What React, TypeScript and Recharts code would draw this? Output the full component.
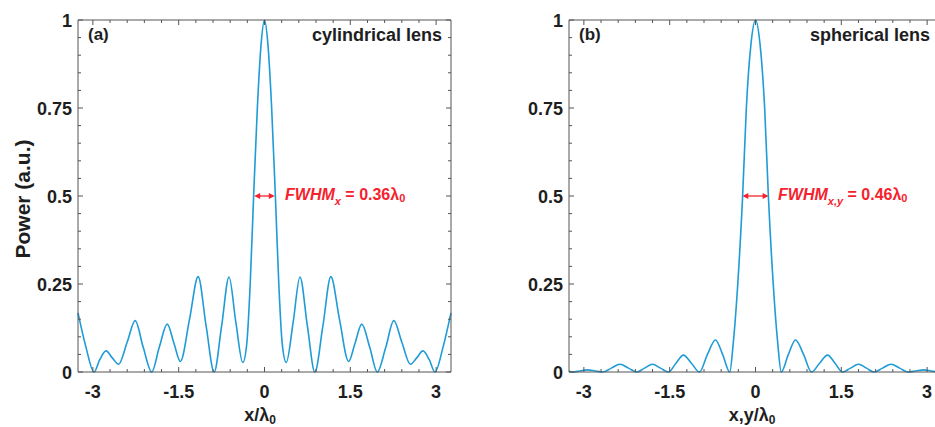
import React from 'react';
import { LineChart, Line, XAxis, YAxis, ReferenceLine } from 'recharts';

// (a) cylindrical lens, power vs x/λ0
const cylX = [
  -3.26, -3.12, -2.98, -2.88, -2.77, -2.66, -2.55, -2.4, -2.26, -2.12,
  -1.97, -1.84, -1.7, -1.58, -1.47, -1.31, -1.16, -1.02, -0.88, -0.75,
  -0.62, -0.5, -0.38, -0.31, -0.25, -0.19, -0.125, -0.06, 0,
  0.06, 0.125, 0.19, 0.25, 0.31, 0.38, 0.5, 0.62, 0.75, 0.88,
  1.02, 1.16, 1.31, 1.47, 1.58, 1.7, 1.84, 1.97, 2.12, 2.26,
  2.4, 2.55, 2.66, 2.77, 2.88, 2.98, 3.12, 3.26,
];
const cylPower = [
  0.168, 0.07, 0, 0.035, 0.06, 0.04, 0.022, 0.085, 0.146, 0.07,
  0, 0.07, 0.136, 0.08, 0.03, 0.15, 0.271, 0.13, 0, 0.13,
  0.27, 0.14, 0.027, 0.08, 0.25, 0.5, 0.75, 0.93, 1,
  0.93, 0.75, 0.5, 0.25, 0.08, 0.027, 0.14, 0.27, 0.13, 0,
  0.13, 0.271, 0.15, 0.03, 0.08, 0.136, 0.07, 0, 0.07, 0.146,
  0.085, 0.022, 0.04, 0.06, 0.035, 0, 0.07, 0.168,
];

// (b) spherical lens, power vs x,y/λ0
const sphX = [
  -3.26, -3.2, -3.07, -2.94, -2.8, -2.67, -2.52, -2.37, -2.22, -2.07,
  -1.94, -1.8, -1.66, -1.52, -1.39, -1.26, -1.12, -0.98, -0.84, -0.7,
  -0.575, -0.45, -0.39, -0.31, -0.225, -0.16, -0.08, 0,
  0.08, 0.16, 0.225, 0.31, 0.39, 0.45, 0.575,
  0.7, 0.84, 0.98, 1.12, 1.26, 1.39, 1.52, 1.66, 1.8, 1.94,
  2.07, 2.22, 2.37, 2.52, 2.67, 2.8, 2.94, 3.07, 3.2, 3.26,
];
const sphPower = [
  0.002, 0, 0.003, 0.006, 0.003, 0, 0.011, 0.022, 0.011, 0,
  0.011, 0.022, 0.011, 0, 0.025, 0.048, 0.025, 0, 0.05, 0.091,
  0.05, 0, 0.08, 0.25, 0.5, 0.75, 0.93, 1,
  0.93, 0.75, 0.5, 0.25, 0.08, 0, 0.05,
  0.091, 0.05, 0, 0.025, 0.048, 0.025, 0, 0.011, 0.022, 0.011,
  0, 0.011, 0.022, 0.011, 0, 0.003, 0.006, 0.003, 0, 0.002,
];

const xTicks = [-3, -1.5, 0, 1.5, 3];
const xAllTicks = [-3, -2.7, -2.4, -2.1, -1.8, -1.5, -1.2, -0.9, -0.6, -0.3, 0, 0.3, 0.6, 0.9, 1.2, 1.5, 1.8, 2.1, 2.4, 2.7, 3];
const yTicks = [0, 0.25, 0.5, 0.75, 1];
const yAllTicks = [0, 0.05, 0.1, 0.15, 0.2, 0.25, 0.3, 0.35, 0.4, 0.45, 0.5, 0.55, 0.6, 0.65, 0.7, 0.75, 0.8, 0.85, 0.9, 0.95, 1];

const cylFwhm = 0.36;
const sphFwhm = 0.46;

const FONT = '"Liberation Sans", Arial, Helvetica, sans-serif';
const BLUE = '#1f9bd7';
const RED = '#f5222d';
const AXIS = '#555555';
const INK = '#1e1e1e';
const CHART_W = 470;
const CHART_H = 427;
// plot box: left 78, top 20, right 451, bottom 372 (axis sizes added on top of these)
const MARGIN = { top: 19, right: 18, bottom: 25, left: 18 };
const X_DOMAIN: [number, number] = [-3.26, 3.26];
const MAJOR = 5;
const MINOR = 3;

const labelStyle = { fill: INK, fontSize: 18, fontWeight: 700, fontFamily: FONT };

function BottomTick(props: any) {
  const { x, y, payload } = props;
  const major = xTicks.includes(payload.value);
  return (
    <g>
      <line x1={x} y1={y} x2={x} y2={y - (major ? MAJOR : MINOR)} stroke={AXIS} strokeWidth={1} />
      {major && <text x={x} y={y + 26} textAnchor="middle" {...labelStyle}>{payload.value}</text>}
    </g>
  );
}

function TopTick(props: any) {
  const { x, y, payload } = props;
  const major = xTicks.includes(payload.value);
  return <line x1={x} y1={y} x2={x} y2={y + (major ? MAJOR : MINOR)} stroke={AXIS} strokeWidth={1} />;
}

function LeftTick(props: any) {
  const { x, y, payload } = props;
  const major = yTicks.includes(payload.value);
  return (
    <g>
      <line x1={x} y1={y} x2={x + (major ? MAJOR : MINOR)} y2={y} stroke={AXIS} strokeWidth={1} />
      {major && <text x={x - 6} y={y + 6.5} textAnchor="end" {...labelStyle}>{payload.value}</text>}
    </g>
  );
}

function RightTick(props: any) {
  const { x, y, payload } = props;
  const major = yTicks.includes(payload.value);
  return <line x1={x} y1={y} x2={x - (major ? MAJOR : MINOR)} y2={y} stroke={AXIS} strokeWidth={1} />;
}

function FwhmArrow(props: any) {
  const { x1, y1, x2, y2 } = props;
  const h = 6;
  const w = 3;
  return (
    <g>
      <line x1={x1 + 2} y1={y1} x2={x2 - 2} y2={y2} stroke={RED} strokeWidth={1.3} />
      <polygon points={`${x1},${y1} ${x1 + h},${y1 - w} ${x1 + h},${y1 + w}`} fill={RED} />
      <polygon points={`${x2},${y2} ${x2 - h},${y2 - w} ${x2 - h},${y2 + w}`} fill={RED} />
    </g>
  );
}

function Panel({ xs, ys, fwhm }: { xs: number[]; ys: number[]; fwhm: number }) {
  const data = xs.map((x, i) => ({ x, p: ys[i] }));
  const stroke = { stroke: AXIS, strokeWidth: 1 };

  return (
    <LineChart width={CHART_W} height={CHART_H} data={data} margin={MARGIN}>
      <XAxis xAxisId="b" type="number" dataKey="x" domain={X_DOMAIN} ticks={xAllTicks} interval={0}
        height={30} tickSize={0} tickMargin={0} tickLine={false} tick={BottomTick} axisLine={stroke} />
      <XAxis xAxisId="t" orientation="top" type="number" dataKey="x" domain={X_DOMAIN} allowDataOverflow
        ticks={xAllTicks} interval={0} height={1} tickSize={0} tickMargin={0} tickLine={false} tick={TopTick} axisLine={stroke} />
      <YAxis yAxisId="l" type="number" domain={[0, 1]} ticks={yAllTicks} interval={0}
        width={60} tickSize={0} tickMargin={0} tickLine={false} tick={LeftTick} axisLine={stroke} />
      <YAxis yAxisId="r" orientation="right" type="number" domain={[0, 1]} allowDataOverflow
        ticks={yAllTicks} interval={0} width={1} tickSize={0} tickMargin={0} tickLine={false} tick={RightTick} axisLine={stroke} />

      <ReferenceLine xAxisId="b" yAxisId="l"
        segment={[{ x: -fwhm / 2, y: 0.5 }, { x: fwhm / 2, y: 0.5 }]}
        shape={FwhmArrow} />
      <Line xAxisId="b" yAxisId="l" type="monotone" dataKey="p" stroke={BLUE} strokeWidth={1.6}
        dot={false} activeDot={false} isAnimationActive={false} />
    </LineChart>
  );
}

export default function App() {
  return (
    <div style={{ position: 'absolute', left: 0, top: 0, width: 935, height: 427, overflow: 'hidden', background: '#fff' }}>
      <div style={{ position: 'absolute', left: 0, top: 0 }}>
        <Panel xs={cylX} ys={cylPower} fwhm={cylFwhm} />
      </div>
      <div style={{ position: 'absolute', left: 491, top: 0 }}>
        <Panel xs={sphX} ys={sphPower} fwhm={sphFwhm} />
      </div>
      <svg width={935} height={427} style={{ position: 'absolute', left: 0, top: 0, pointerEvents: 'none' }}
        fontFamily={FONT} fontWeight={700}>
        <text transform="translate(30,199) rotate(-90)" textAnchor="middle" fontSize={21} fill={INK}>Power (a.u.)</text>

        <text x={88} y={40} fontSize={17} fill={INK}>(a)</text>
        <text x={442} y={41} textAnchor="end" fontSize={18} fill={INK}>cylindrical lens</text>
        <text x={579} y={40} fontSize={17} fill={INK}>(b)</text>
        <text x={930} y={41} textAnchor="end" fontSize={18} fill={INK}>spherical lens</text>

        <text x={260} y={421} textAnchor="middle" fontSize={18} fill={INK}>
          x/λ<tspan fontSize={12} dy={3}>0</tspan>
        </text>
        <text x={752} y={421} textAnchor="middle" fontSize={18} fill={INK}>
          x,y/λ<tspan fontSize={12} dy={3}>0</tspan>
        </text>

        <text x={285} y={199.5} fontSize={16} fill={RED}>
          <tspan fontStyle="italic">FWHM</tspan>
          <tspan fontStyle="italic" fontSize={11} dy={5}>x</tspan>
          <tspan dy={-5}> = 0.36λ</tspan>
          <tspan fontSize={11} dy={2.5}>0</tspan>
        </text>
        <text x={778} y={199.5} fontSize={16} fill={RED}>
          <tspan fontStyle="italic">FWHM</tspan>
          <tspan fontStyle="italic" fontSize={11} dy={5}>x,y</tspan>
          <tspan dy={-5}> = 0.46λ</tspan>
          <tspan fontSize={11} dy={2.5}>0</tspan>
        </text>
      </svg>
    </div>
  );
}
